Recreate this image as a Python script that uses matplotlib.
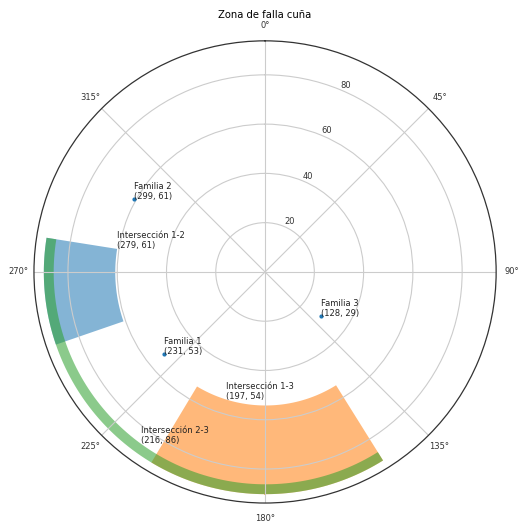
import numpy as np
import matplotlib
matplotlib.use("Agg")
import matplotlib.pyplot as plt

# Discontinuity families: dip direction (deg) and dip (deg)
familias = ["Familia 1", "Familia 2", "Familia 3"]
fam_dir = [231, 299, 128]
fam_dip = [53, 61, 29]

# Intersection lines: trend (deg) and plunge (deg)
intersecciones = ["Intersección 1-2", "Intersección 1-3", "Intersección 2-3"]
int_dir = [279, 197, 216]
int_dip = [61, 54, 86]

# Failure zones: azimuth span (deg) and radial span
zona_nombres = ["zona 1-2", "zona 1-3", "zona 2-3"]
zona_az_ini = [251, 148, 148]
zona_az_fin = [279, 211, 279]
zona_r_ini = [61, 54, 86]
zona_r_fin = [90, 90, 90]
zona_colores = ["tab:blue", "tab:orange", "tab:green"]

r_ticks = [20, 40, 60, 80]

fig = plt.figure(figsize=(5.19, 5.27), dpi=100)
ax = fig.add_axes([0.0617, 0.0455, 0.898, 0.877], projection="polar")
ax.set_theta_zero_location("N")
ax.set_theta_direction(-1)

for a0, a1, r0, r1, c in zip(zona_az_ini, zona_az_fin, zona_r_ini, zona_r_fin, zona_colores):
    th = np.deg2rad(np.linspace(a0, a1, 100))
    ax.fill_between(th, r0, r1, color=c, alpha=0.55, linewidth=0)

ax.plot(np.deg2rad(fam_dir), fam_dip, "o", color="tab:blue", markersize=2, linestyle="none")

for name, d, p in zip(familias, fam_dir, fam_dip):
    ax.text(np.deg2rad(d), p, f"{name}\n({d}, {p})", fontsize=6, color="#222222")
for name, d, p in zip(intersecciones, int_dir, int_dip):
    ax.text(np.deg2rad(d), p, f"{name}\n({d}, {p})", fontsize=6, color="#222222")

ax.set_ylim(0, 93.8)
ax.set_yticks(r_ticks)
ax.set_yticklabels([str(t) for t in r_ticks], fontsize=6, color="#333333")
ax.set_xticks(np.deg2rad(np.arange(0, 360, 45)))
ax.set_xticklabels([f"{a}°" for a in range(0, 360, 45)], fontsize=6, color="#333333")
ax.tick_params(axis="x", pad=0.8)
ax.grid(True, color="#cccccc", linewidth=0.8)
ax.spines["polar"].set_color("#333333")
ax.spines["polar"].set_linewidth(0.9)
ax.set_title("Zona de falla cuña", fontsize=7.2, y=1.0, pad=16.5)

fig.savefig("out.png", dpi=100)
